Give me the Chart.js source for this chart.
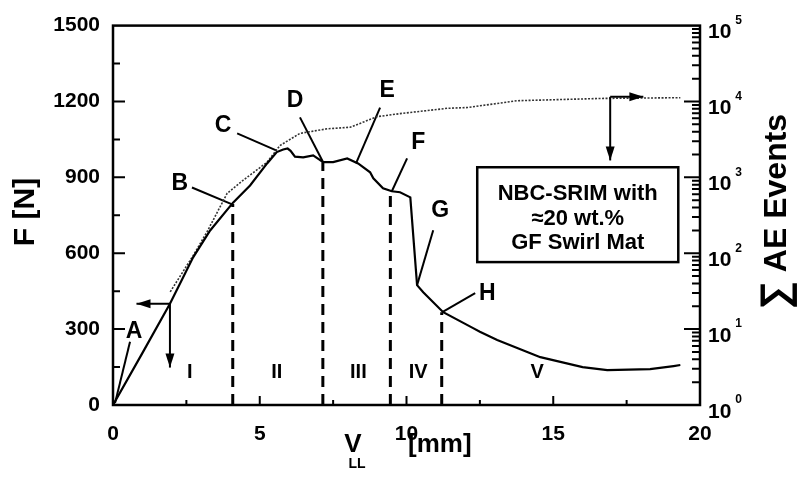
<!DOCTYPE html>
<html lang="en">
<head>
<meta charset="UTF-8">
<title>Force and AE events vs displacement</title>
<script src="https://cdn.jsdelivr.net/npm/chart.js"></script>
<style>
  body { margin: 0; background: #fff; }
  canvas { display: block; }
</style>
</head>
<body>
<canvas id="chart" width="799" height="488"></canvas>
<script>
// force curve (left axis, N)
const forceX = [0, 1.0, 1.94, 2.73, 3.31, 4.09, 4.67, 5.25, 5.58, 5.8, 5.95, 6.05, 6.2, 6.48, 6.82, 7.16, 7.5, 7.98, 8.35, 8.76, 8.87, 9.2, 9.5, 9.78, 10.13, 10.36, 10.57, 11.25, 12.27, 12.5, 13.09, 14.56, 16.0, 16.84, 18.3, 19.1, 19.33];
const forceN = [0, 205, 400, 584, 690, 800, 868, 955, 1000, 1010, 1014, 1005, 982, 979, 987, 960, 960, 975, 955, 920, 896, 857, 845, 841, 821, 474, 446, 367, 304, 290, 257, 189, 150, 138, 142, 154, 158];

// cumulative AE events (right axis, log)
const aeX = [1.95, 2.73, 3.2, 3.89, 4.43, 5.25, 5.69, 6.37, 7.3, 8.08, 9.0, 9.78, 11.39, 12.07, 13.77, 16.6, 19.33];
const aeCount = [31, 93, 190, 617, 912, 1585, 2630, 3800, 4365, 4570, 6310, 6920, 8130, 8320, 10230, 10960, 11220];

// stage boundaries and stage names
const stageX = [4.08, 7.15, 9.45, 11.2];
const stageTop = [795, 960, 843, 367];
const stageNames = ['I', 'II', 'III', 'IV', 'V'];
const stageLabelX = [2.62, 5.58, 8.36, 10.4, 14.45];
const stageLabelY = 130;

// point labels A-H and their leader lines (data units)
const pointNames = ['A', 'B', 'C', 'D', 'E', 'F', 'G', 'H'];
const pointLabelX = [0.72, 2.28, 3.75, 6.2, 9.34, 10.4, 11.15, 12.75];
const pointLabelY = [288, 876, 1105, 1204, 1243, 1038, 770, 442];
const leaderFromX = [0.58, 2.69, 4.23, 6.37, 9.1, 10.02, 10.91, 12.34];
const leaderFromY = [250, 860, 1074, 1137, 1176, 975, 691, 442];
const leaderToX = [0.07, 4.06, 5.58, 7.16, 8.28, 9.5, 10.36, 11.22];
const leaderToY = [8, 793, 1006, 960, 955, 845, 474, 367];

// axis ticks
const xTicks = [0, 5, 10, 15, 20];
const forceTicks = [0, 300, 600, 900, 1200, 1500];
const aeDecades = [0, 1, 2, 3, 4, 5];

const boxLines = ['NBC-SRIM with', '\u224820 wt.%', 'GF Swirl Mat'];

const FONT = '"Liberation Sans", Arial, Helvetica, sans-serif';

function arrow(ctx, x1, y1, x2, y2) {
    const ang = Math.atan2(y2 - y1, x2 - x1);
    ctx.beginPath();
    ctx.moveTo(x1, y1);
    ctx.lineTo(x2, y2);
    ctx.stroke();
    ctx.beginPath();
    ctx.moveTo(x2, y2);
    ctx.lineTo(x2 - 14 * Math.cos(ang) + 4.5 * Math.sin(ang), y2 - 14 * Math.sin(ang) - 4.5 * Math.cos(ang));
    ctx.lineTo(x2 - 14 * Math.cos(ang) - 4.5 * Math.sin(ang), y2 - 14 * Math.sin(ang) + 4.5 * Math.cos(ang));
    ctx.closePath();
    ctx.fill();
}

// frame, inward ticks, log labels, annotations
const overlay = {
    id: 'overlay',
    afterDatasetsDraw(chart) {
        const { ctx, chartArea: a, scales: { x, y, y2 } } = chart;
        ctx.save();
        ctx.strokeStyle = '#000';
        ctx.fillStyle = '#000';

        ctx.lineWidth = 2.5;
        ctx.strokeRect(a.left, a.top, a.right - a.left, a.bottom - a.top);

        ctx.lineWidth = 2;
        ctx.beginPath();
        for (let v = 2.5; v < 20; v += 2.5) {
            const px = x.getPixelForValue(v);
            ctx.moveTo(px, a.bottom);
            ctx.lineTo(px, a.bottom - (v % 5 === 0 ? 9 : 5));
        }
        for (let v = 150; v < 1500; v += 150) {
            const py = y.getPixelForValue(v);
            ctx.moveTo(a.left, py);
            ctx.lineTo(a.left + (v % 300 === 0 ? 12 : 7), py);
        }
        for (let d = 0; d < 5; d++) {
            for (let k = 1; k <= 9; k++) {
                if (d === 0 && k === 1) continue;
                const py = y2.getPixelForValue(k * Math.pow(10, d));
                ctx.moveTo(a.right, py);
                ctx.lineTo(a.right - (k === 1 ? 16 : 8), py);
            }
        }
        ctx.stroke();

        // right axis labels 10^n
        ctx.textBaseline = 'middle';
        ctx.textAlign = 'left';
        aeDecades.forEach(d => {
            const py = y2.getPixelForValue(Math.pow(10, d));
            ctx.font = `bold 21px ${FONT}`;
            ctx.fillText('10', a.right + 8, py + 7);
            const w = ctx.measureText('10').width;
            ctx.font = `bold 12px ${FONT}`;
            ctx.fillText(String(d), a.right + 12 + w, py - 5);
        });

        // axis titles
        ctx.textAlign = 'center';
        ctx.save();
        ctx.translate(26, 212);
        ctx.rotate(-Math.PI / 2);
        ctx.font = `bold 30px ${FONT}`;
        ctx.fillText('F [N]', 0, 0);
        ctx.restore();

        ctx.save();
        ctx.translate(777, 0);
        ctx.rotate(-Math.PI / 2);
        ctx.font = `bold 32px ${FONT}`;
        ctx.fillText('AE Events', -193, 0);
        ctx.font = `bold 40px ${FONT}`;
        ctx.fillText('\u2211', -295, 0);
        ctx.restore();

        ctx.font = `bold 26px ${FONT}`;
        ctx.fillText('V', 353, 445);
        ctx.font = `bold 14px ${FONT}`;
        ctx.fillText('LL', 357, 464);
        ctx.textAlign = 'left';
        ctx.font = `bold 26px ${FONT}`;
        ctx.fillText('[mm]', 408, 445);

        // stage names
        ctx.textAlign = 'center';
        ctx.font = `bold 20px ${FONT}`;
        stageNames.forEach((s, i) => {
            ctx.fillText(s, x.getPixelForValue(stageLabelX[i]), y.getPixelForValue(stageLabelY));
        });

        // point letters
        ctx.font = `bold 23px ${FONT}`;
        pointNames.forEach((s, i) => {
            ctx.fillText(s, x.getPixelForValue(pointLabelX[i]), y.getPixelForValue(pointLabelY[i]));
        });

        // axis arrows
        ctx.lineWidth = 2;
        const ax = x.getPixelForValue(1.94), ay = y.getPixelForValue(400);
        arrow(ctx, ax, ay, x.getPixelForValue(0.8), ay);
        arrow(ctx, ax, ay, ax, y.getPixelForValue(148));
        const bx = x.getPixelForValue(16.94), by = y2.getPixelForValue(11500);
        arrow(ctx, bx, by, x.getPixelForValue(18.07), by);
        arrow(ctx, bx, by, bx, y.getPixelForValue(967));

        // legend box
        const l = x.getPixelForValue(12.41), r = x.getPixelForValue(19.26);
        const t = y.getPixelForValue(940), b = y.getPixelForValue(565);
        ctx.fillStyle = '#fff';
        ctx.fillRect(l, t, r - l, b - t);
        ctx.fillStyle = '#000';
        ctx.lineWidth = 2.5;
        ctx.strokeRect(l, t, r - l, b - t);
        ctx.font = `bold 22px ${FONT}`;
        const cx = (l + r) / 2;
        boxLines.forEach((s, i) => ctx.fillText(s, cx, t + 27 + i * 24.5));

        ctx.restore();
    }
};

const datasets = [
    {
        data: forceX.map((v, i) => ({ x: v, y: forceN[i] })),
        yAxisID: 'y', borderColor: '#000', borderWidth: 2.2
    },
    {
        data: aeX.map((v, i) => ({ x: v, y: aeCount[i] })),
        yAxisID: 'y2', borderColor: '#333', borderWidth: 1.6, borderDash: [2, 1.5]
    }
];
stageX.forEach((sx, i) => datasets.push({
    data: [{ x: sx, y: 0 }, { x: sx, y: stageTop[i] }],
    yAxisID: 'y', borderColor: '#000', borderWidth: 3, borderDash: [11, 7]
}));
pointNames.forEach((s, i) => datasets.push({
    data: [{ x: leaderFromX[i], y: leaderFromY[i] }, { x: leaderToX[i], y: leaderToY[i] }],
    yAxisID: 'y', borderColor: '#000', borderWidth: 2
}));
datasets.forEach(d => { d.showLine = true; d.pointRadius = 0; d.fill = false; d.tension = 0; });

const tickFont = { family: FONT, size: 21, weight: 'bold' };

new Chart(document.getElementById('chart'), {
    type: 'scatter',
    data: { datasets },
    options: {
        responsive: false,
        animation: false,
        devicePixelRatio: 1,
        layout: { padding: { top: 25 } },
        plugins: { legend: { display: false }, tooltip: { enabled: false } },
        scales: {
            x: {
                type: 'linear', min: 0, max: 20,
                afterBuildTicks: s => { s.ticks = xTicks.map(v => ({ value: v })); },
                ticks: { color: '#000', font: tickFont, padding: 17, maxRotation: 0, callback: v => String(v) },
                grid: { display: false, drawTicks: false },
                border: { display: false },
                afterFit: s => { s.height = 83; }
            },
            y: {
                min: 0, max: 1500,
                afterBuildTicks: s => { s.ticks = forceTicks.map(v => ({ value: v })); },
                ticks: { color: '#000', font: tickFont, padding: 13, callback: v => String(v) },
                grid: { display: false, drawTicks: false },
                border: { display: false },
                afterFit: s => { s.width = 113; }
            },
            y2: {
                type: 'logarithmic', position: 'right', min: 1, max: 100000,
                ticks: { display: false },
                grid: { display: false, drawTicks: false },
                border: { display: false },
                afterFit: s => { s.width = 99; }
            }
        }
    },
    plugins: [overlay]
});
</script>
</body>
</html>
